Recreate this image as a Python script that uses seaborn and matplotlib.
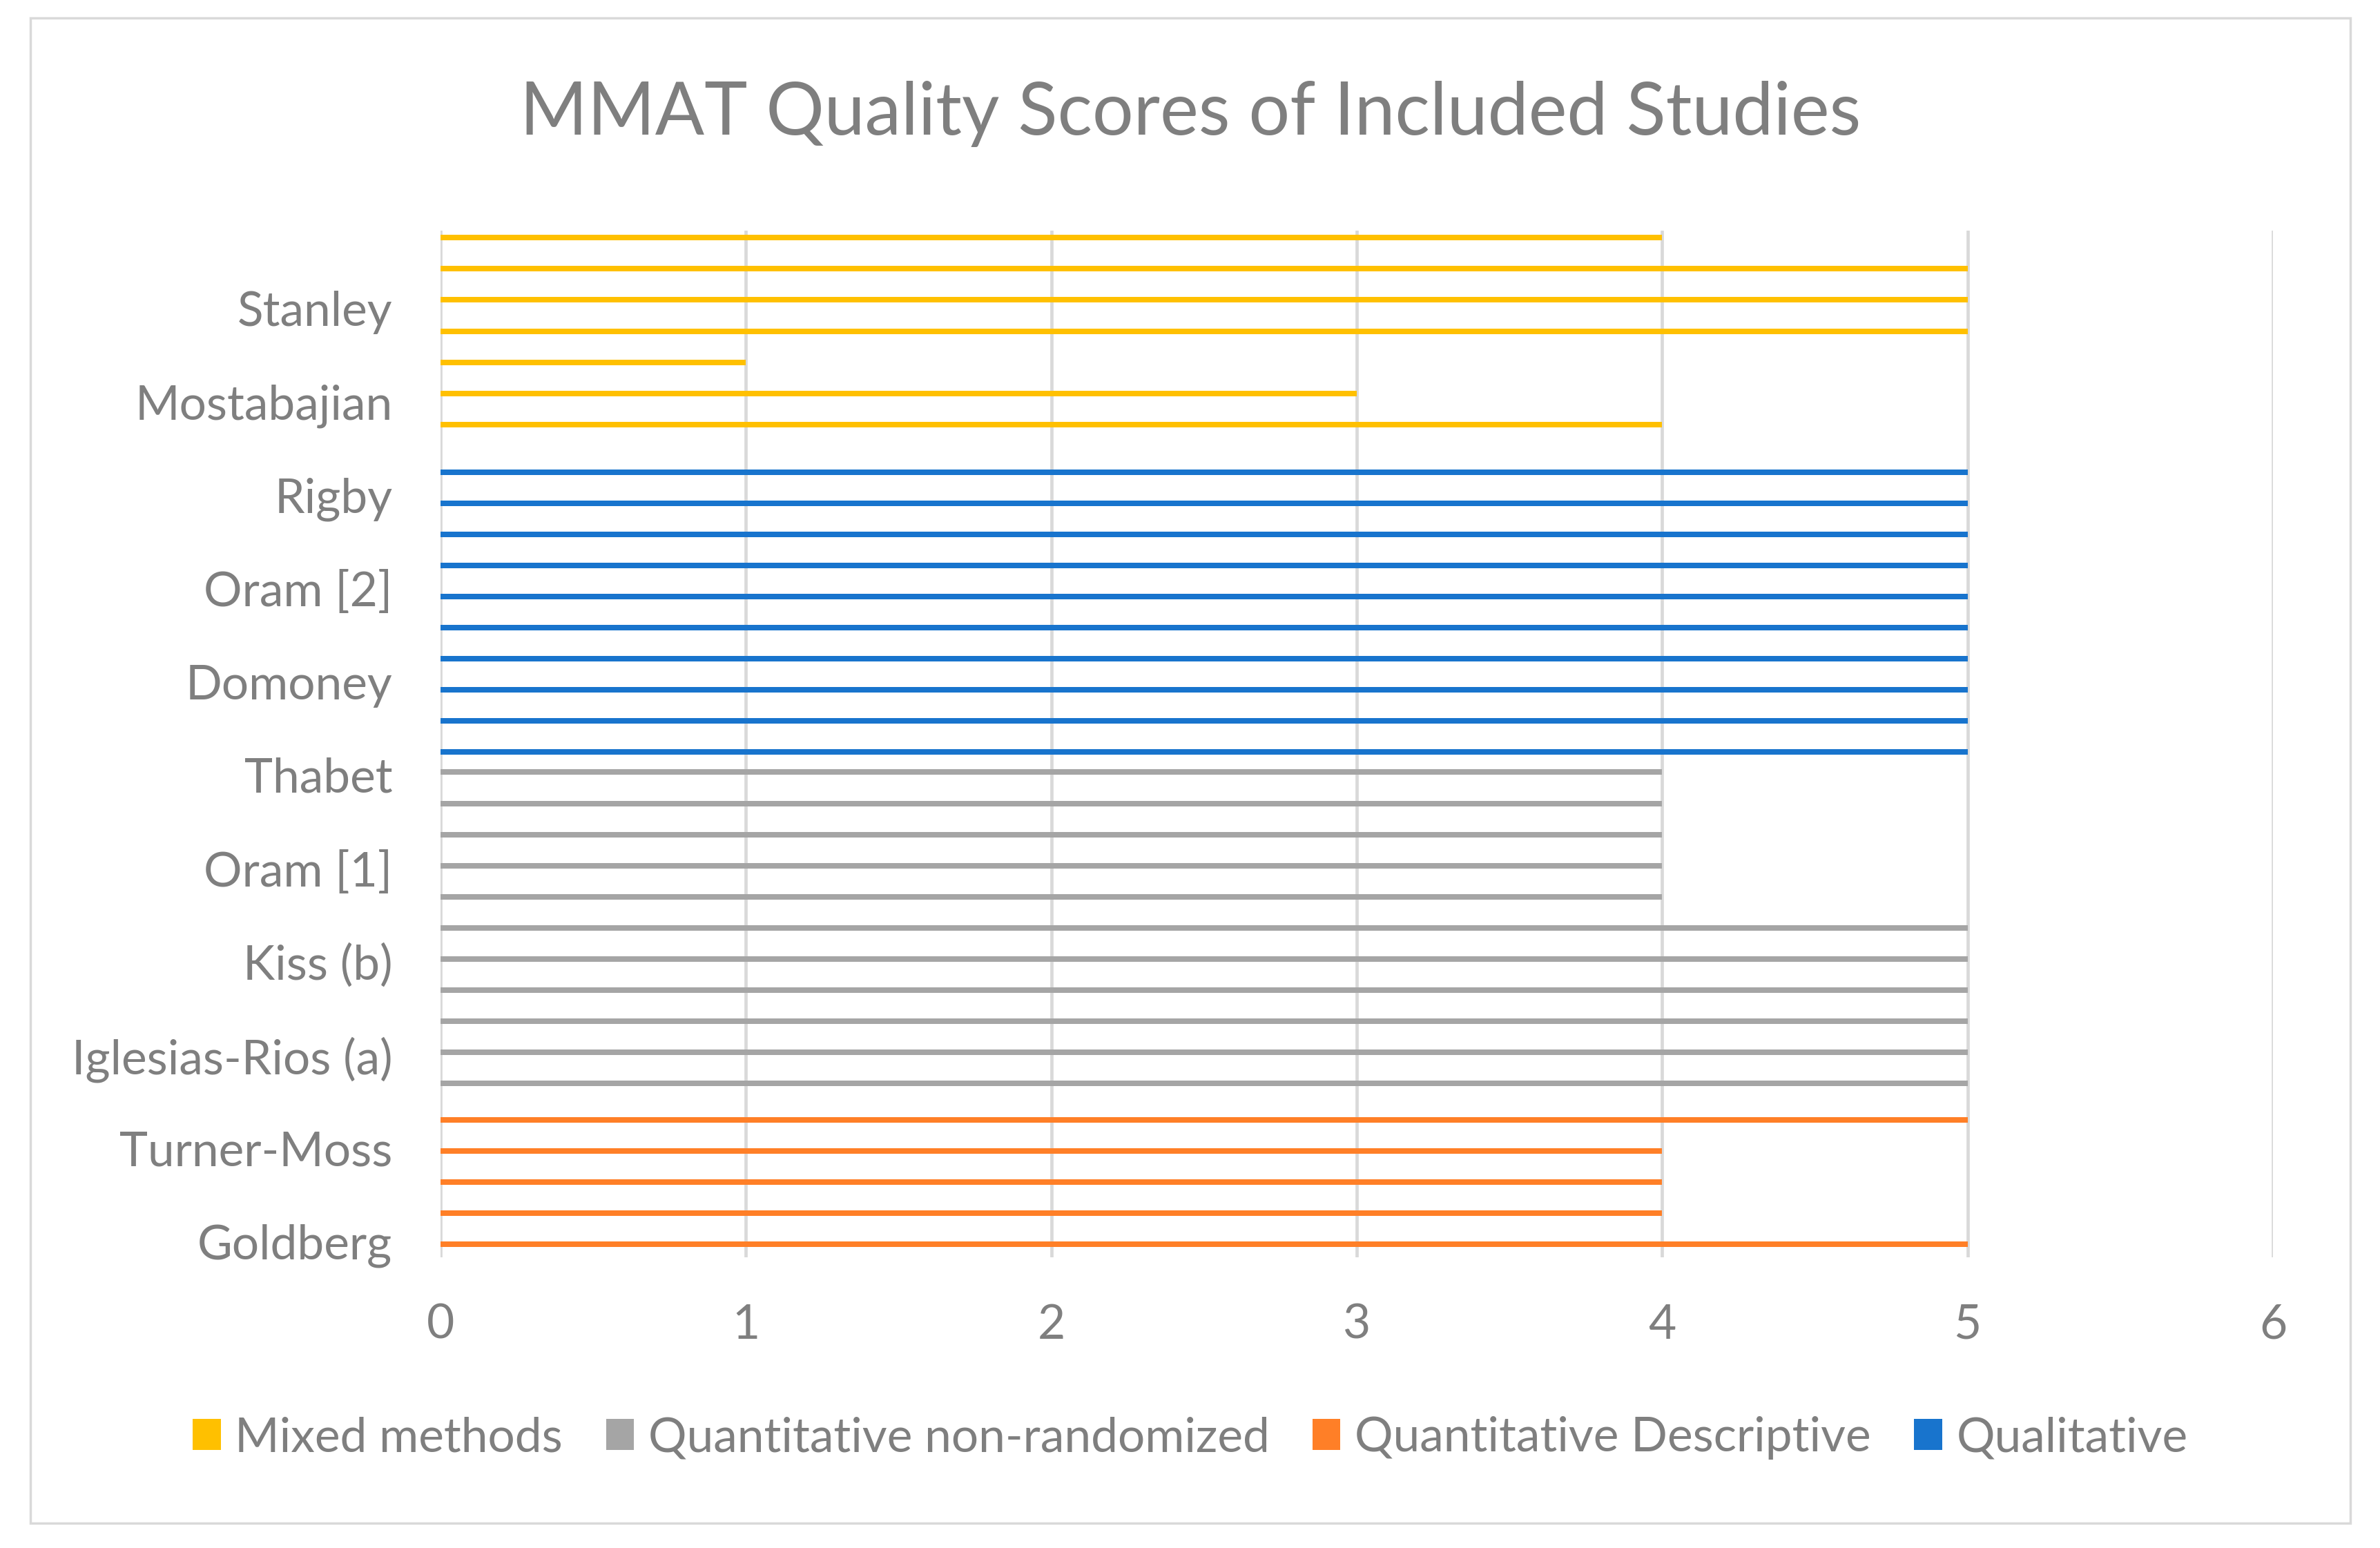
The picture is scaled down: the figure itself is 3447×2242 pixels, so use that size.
import pandas as pd
import matplotlib.pyplot as plt
import seaborn as sns
from matplotlib.patches import Rectangle

# Study names that appear on the axis (every third study, bottom to top)
shown_labels = ['Goldberg', 'Turner-Moss', 'Iglesias-Rios (a)', 'Kiss (b)', 'Oram [1]',
                'Thabet', 'Domoney', 'Oram [2]', 'Rigby', 'Mostabajian', 'Stanley']

# MMAT scores per study design, listed bottom to top as drawn in the chart
descriptive_scores = [5, 4, 4, 4, 5]
nonrandomized_scores = [5, 5, 5, 5, 5, 5, 4, 4, 4, 4, 4]
qualitative_scores = [5, 5, 5, 5, 5, 5, 5, 5, 5, 5]
mixed_scores = [4, 3, 1, 5, 5, 5, 4]

designs = ['Mixed methods', 'Quantitative non-randomized', 'Quantitative Descriptive', 'Qualitative']
colors = ['#FFC000', '#A5A5A5', '#FF7F27', '#1874CD']
score_ticks = [0, 1, 2, 3, 4, 5, 6]

# 1. BUILD A LONG TABLE (one row per study)
groups = [('Quantitative Descriptive', descriptive_scores),
          ('Quantitative non-randomized', nonrandomized_scores),
          ('Qualitative', qualitative_scores),
          ('Mixed methods', mixed_scores)]
rows = []
for design, scores in groups:
    for s in scores:
        rows.append({'study': f'study_{len(rows):02d}', 'design': design, 'score': s})
df = pd.DataFrame(rows)
n_studies = len(df)
order = list(df['study'])[::-1]  # seaborn draws the first category at the top

# 2. PLOT
sns.set_style('white')
plt.rcParams['font.family'] = ['Lato', 'DejaVu Sans']
text_grey = '#7F7F7F'
grid_grey = '#D9D9D9'

fig = plt.figure(figsize=(34.48, 22.42), dpi=100)
ax = fig.add_axes([0.185, 0.1878, 0.7698, 0.6633])

sns.barplot(data=df, x='score', y='study', hue='design', order=order, hue_order=designs,
            palette=colors, orient='h', width=0.71, dodge=True, saturation=1,
            linewidth=0, ax=ax)

ax.set_xlim(0, 6)
ax.set_xticks(score_ticks)
ax.set_xticklabels([str(t) for t in score_ticks])
ax.xaxis.grid(True, color=grid_grey, linewidth=3.4)
ax.yaxis.grid(False)
ax.set_axisbelow(True)
for sp in ax.spines.values():
    sp.set_visible(False)

# only every third study is labelled
ylabels = []
for p in range(n_studies):
    k = n_studies - 1 - p
    ylabels.append(shown_labels[k // 3] if k % 3 == 0 else '')
ax.set_yticks(range(n_studies))
ax.set_yticklabels(ylabels)
ax.set_xlabel('')
ax.set_ylabel('')
ax.tick_params(axis='y', length=0, pad=50, labelsize=50, labelcolor=text_grey)
ax.tick_params(axis='x', length=0, pad=48, labelsize=50, labelcolor=text_grey)

sns.move_legend(ax, 'center', bbox_to_anchor=(0.5, 0.071), bbox_transform=fig.transFigure,
                ncol=4, frameon=False, title=None, fontsize=50, handlelength=0.58,
                handleheight=0.62, handletextpad=0.3, columnspacing=0.9, labelcolor=text_grey)

fig.text(0.5, 1 - 165 / 2242, 'MMAT Quality Scores of Included Studies',
         ha='center', va='center', fontsize=76, color=text_grey)

fig.patches.append(Rectangle((44 / 3448, 1 - 2206 / 2242), 3360 / 3448, 2180 / 2242,
                             transform=fig.transFigure, fill=False,
                             edgecolor=grid_grey, linewidth=2.5))

fig.savefig('out.png', dpi=100, facecolor='white')
